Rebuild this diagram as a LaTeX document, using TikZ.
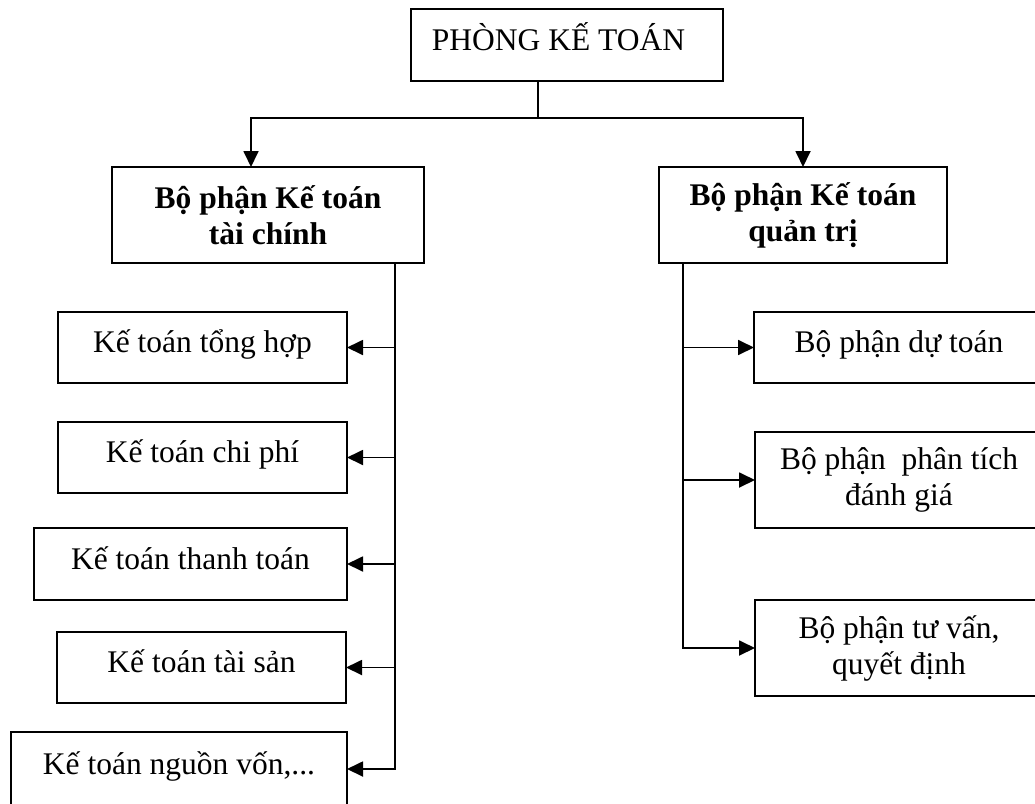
\documentclass[tikz,border=0pt]{standalone}
\usepackage{fontspec}
\setmainfont{Liberation Serif}
\usetikzlibrary{arrows.meta}
\begin{document}
\begin{tikzpicture}[x=1pt,y=-1pt,
  box/.style={draw, line width=1.8pt, inner sep=0pt, outer sep=0pt, align=center,
    font=\fontsize{31.5}{36}\selectfont},
  one/.style={box, text height=22pt, text depth=12pt},
  head/.style={box, font=\fontsize{31.5}{36}\selectfont\bfseries},
  link/.style={line width=1.8pt},
  arr/.style={link, -{Triangle[length=16pt,width=15pt]}}]
\useasboundingbox (0,0) rectangle (1035,803);

% top level
\node[one, minimum width=312pt, minimum height=72pt] (top) at (567,45) {PHÒNG KẾ TOÁN\hspace*{17pt}};

% two departments
\node[head, minimum width=312pt, minimum height=96pt] (hl) at (268,215) {Bộ phận Kế toán\\tài chính};
\node[head, minimum width=288pt, minimum height=96pt] (hr) at (803,215) {Bộ phận Kế toán\\quản trị};

% financial accounting sections
\node[one, minimum width=289pt, minimum height=71pt] (k1) at (202.5,347.5) {Kế toán tổng hợp};
\node[one, minimum width=289pt, minimum height=71pt] (k2) at (202.5,457.5) {Kế toán chi phí};
\node[one, minimum width=313pt, minimum height=72pt] (k3) at (190.5,564) {Kế toán thanh toán};
\node[one, minimum width=289pt, minimum height=71pt] (k4) at (201.5,667.5) {Kế toán tài sản};
\node[one, minimum width=336pt, minimum height=74pt] (k5) at (179,769) {Kế toán nguồn vốn,...};

% management accounting sections
\node[one, minimum width=290pt, minimum height=71pt] (r1) at (899,347.5) {Bộ phận dự toán};
\node[box, minimum width=288pt, minimum height=96pt] (r2) at (899,480) {Bộ phận~ phân tích\\đánh giá};
\node[box, minimum width=288pt, minimum height=96pt] (r3) at (899,648) {Bộ phận tư vấn,\\quyết định};

% junction points
\coordinate (jt) at (538,118);
\coordinate (bl) at (251,118);
\coordinate (br) at (803,118);
\coordinate (tl) at (395,0);
\coordinate (tr) at (683,0);

% top connectors
\draw[link] (top.south -| jt) -- (jt);
\draw[arr] (jt) -| (hl.north -| bl);
\draw[arr] (jt) -| (hr.north -| br);

% left trunk
\draw[arr] (hl.south -| tl) |- (k5.east);
\foreach \k in {k1,k2,k3,k4}
  \draw[arr] (\k.east -| tl) -- (\k.east);

% right trunk
\draw[arr] (hr.south -| tr) |- (r3.west);
\foreach \r in {r1,r2}
  \draw[arr] (\r.west -| tr) -- (\r.west);
\end{tikzpicture}
\end{document}
